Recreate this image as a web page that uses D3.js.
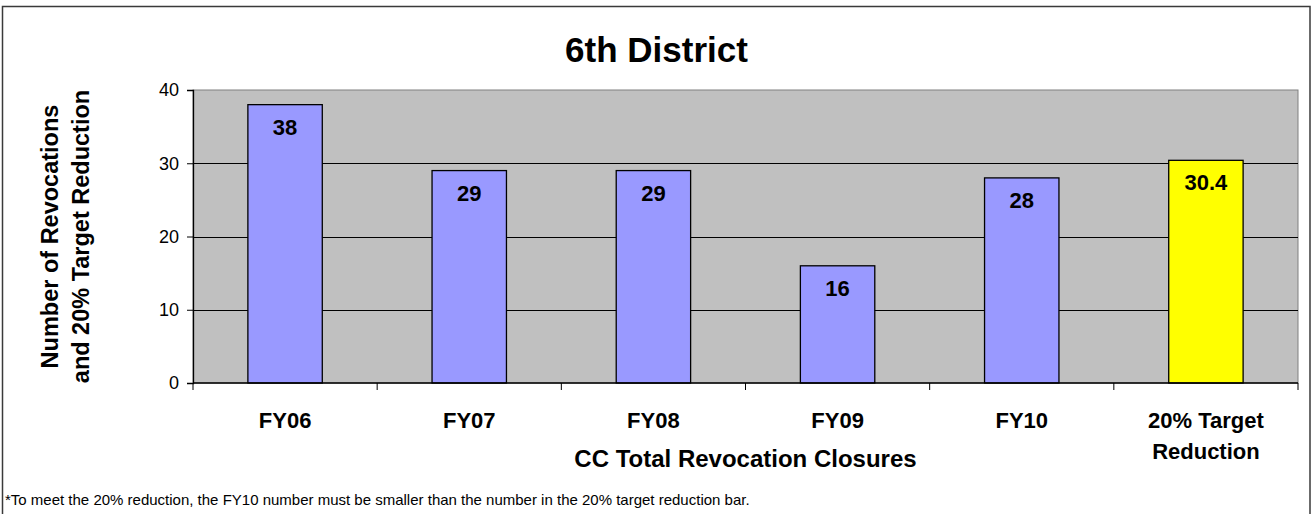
<!DOCTYPE html>
<html>
<head>
<meta charset="utf-8">
<script src="https://cdn.jsdelivr.net/npm/d3@7"></script>
<style>
  html, body { margin: 0; padding: 0; background: #fff; }
  svg { display: block; font-family: Arial, "Liberation Sans", sans-serif; }
</style>
</head>
<body>
<script>
// chart data
const categories = ["FY06", "FY07", "FY08", "FY09", "FY10", "20% Target Reduction"];
const values = [38, 29, 29, 16, 28, 30.4];
const valueLabels = ["38", "29", "29", "16", "28", "30.4"];
const yTicks = [0, 10, 20, 30, 40];
const titleText = "6th District";
const xTitle = "CC Total Revocation Closures";
const yTitle = ["Number of Revocations", "and 20% Target Reduction"];
const footnote = "*To meet the 20% reduction, the FY10 number must be smaller than the number in the 20% target reduction bar.";

const width = 1312;
const height = 514;
const plot = { left: 193, top: 90, right: 1298, bottom: 383 };

const svg = d3.select("body").append("svg")
  .attr("width", width)
  .attr("height", height);

// outer chart border
svg.append("rect")
  .attr("x", 2.5).attr("y", 6.5)
  .attr("width", 1307.5).attr("height", 520)
  .attr("fill", "#fff")
  .attr("stroke", "#3a3a3a")
  .attr("stroke-width", 1.5);

// scales
const x = d3.scaleBand()
  .domain(categories)
  .range([plot.left, plot.right])
  .padding(0);

const y = d3.scaleLinear()
  .domain([0, 40])
  .range([plot.bottom, plot.top]);

const barW = x.bandwidth() * 0.404;

// plot background
svg.append("rect")
  .attr("x", plot.left).attr("y", plot.top)
  .attr("width", plot.right - plot.left)
  .attr("height", plot.bottom - plot.top)
  .attr("fill", "#c0c0c0")
  .attr("stroke", "#808080")
  .attr("stroke-width", 1);

// gridlines
svg.append("g")
  .selectAll("line")
  .data(yTicks.filter(t => t > 0 && t < 40))
  .join("line")
  .attr("x1", plot.left).attr("x2", plot.right)
  .attr("y1", d => Math.round(y(d)) + 0.5)
  .attr("y2", d => Math.round(y(d)) + 0.5)
  .attr("stroke", "#000")
  .attr("stroke-width", 1);

// bars
svg.append("g")
  .selectAll("rect")
  .data(values)
  .join("rect")
  .attr("x", (d, i) => x(categories[i]) + (x.bandwidth() - barW) / 2)
  .attr("y", d => y(d))
  .attr("width", barW)
  .attr("height", d => y(0) - y(d))
  .attr("fill", (d, i) => i === values.length - 1 ? "#ffff00" : "#9999ff")
  .attr("stroke", "#000")
  .attr("stroke-width", 1.3);

// bar labels
svg.append("g")
  .selectAll("text")
  .data(values)
  .join("text")
  .attr("x", (d, i) => x(categories[i]) + x.bandwidth() / 2)
  .attr("y", d => y(d) + 30)
  .attr("text-anchor", "middle")
  .attr("font-size", 22)
  .attr("font-weight", "bold")
  .attr("fill", "#000")
  .text((d, i) => valueLabels[i]);

// y axis
const yAxis = svg.append("g")
  .attr("transform", `translate(${plot.left},0)`)
  .call(d3.axisLeft(y).tickValues(yTicks).tickSize(6).tickPadding(8).tickFormat(d3.format("d")));
yAxis.select(".domain").attr("stroke", "#000").attr("stroke-width", 1.3);
yAxis.selectAll(".tick line").attr("stroke", "#000");
yAxis.selectAll(".tick text")
  .attr("font-size", 18)
  .attr("font-family", "Arial, 'Liberation Sans', sans-serif")
  .attr("fill", "#000");

// x axis: ticks at category boundaries
const xAxis = svg.append("g");
xAxis.append("line")
  .attr("x1", plot.left).attr("x2", plot.right)
  .attr("y1", plot.bottom).attr("y2", plot.bottom)
  .attr("stroke", "#000").attr("stroke-width", 1.3);
xAxis.selectAll(".xt")
  .data(categories.concat([null]))
  .join("line")
  .attr("class", "xt")
  .attr("x1", (d, i) => d ? x(d) : plot.right)
  .attr("x2", (d, i) => d ? x(d) : plot.right)
  .attr("y1", plot.bottom).attr("y2", plot.bottom + 7)
  .attr("stroke", "#000");

// category labels (wrap the long one)
const catLines = categories.map(c => c === "20% Target Reduction" ? ["20% Target", "Reduction"] : [c]);
xAxis.selectAll(".xl")
  .data(catLines)
  .join("text")
  .attr("class", "xl")
  .attr("text-anchor", "middle")
  .attr("font-size", 22)
  .attr("font-weight", "bold")
  .attr("fill", "#000")
  .attr("x", (d, i) => x(categories[i]) + x.bandwidth() / 2)
  .attr("y", 428)
  .selectAll("tspan")
  .data(d => d)
  .join("tspan")
  .attr("x", function () { return d3.select(this.parentNode).attr("x"); })
  .attr("dy", (d, i) => i === 0 ? 0 : 31)
  .text(d => d);

// title
svg.append("text")
  .attr("x", (plot.left + plot.right) / 2 - 89)
  .attr("y", 62)
  .attr("text-anchor", "middle")
  .attr("font-size", 35)
  .attr("font-weight", "bold")
  .text(titleText);

// x axis title
svg.append("text")
  .attr("x", (plot.left + plot.right) / 2)
  .attr("y", 467)
  .attr("text-anchor", "middle")
  .attr("font-size", 24)
  .attr("font-weight", "bold")
  .text(xTitle);

// y axis title
svg.append("g")
  .selectAll("text")
  .data(yTitle)
  .join("text")
  .attr("transform", (d, i) => `translate(${i === 0 ? 58 : 89},${(plot.top + plot.bottom) / 2}) rotate(-90)`)
  .attr("text-anchor", "middle")
  .attr("font-size", 23.5)
  .attr("font-weight", "bold")
  .text(d => d);

// footnote
svg.append("text")
  .attr("x", 5)
  .attr("y", 505)
  .attr("font-size", 15)
  .attr("fill", "#000")
  .text(footnote);
</script>
</body>
</html>
